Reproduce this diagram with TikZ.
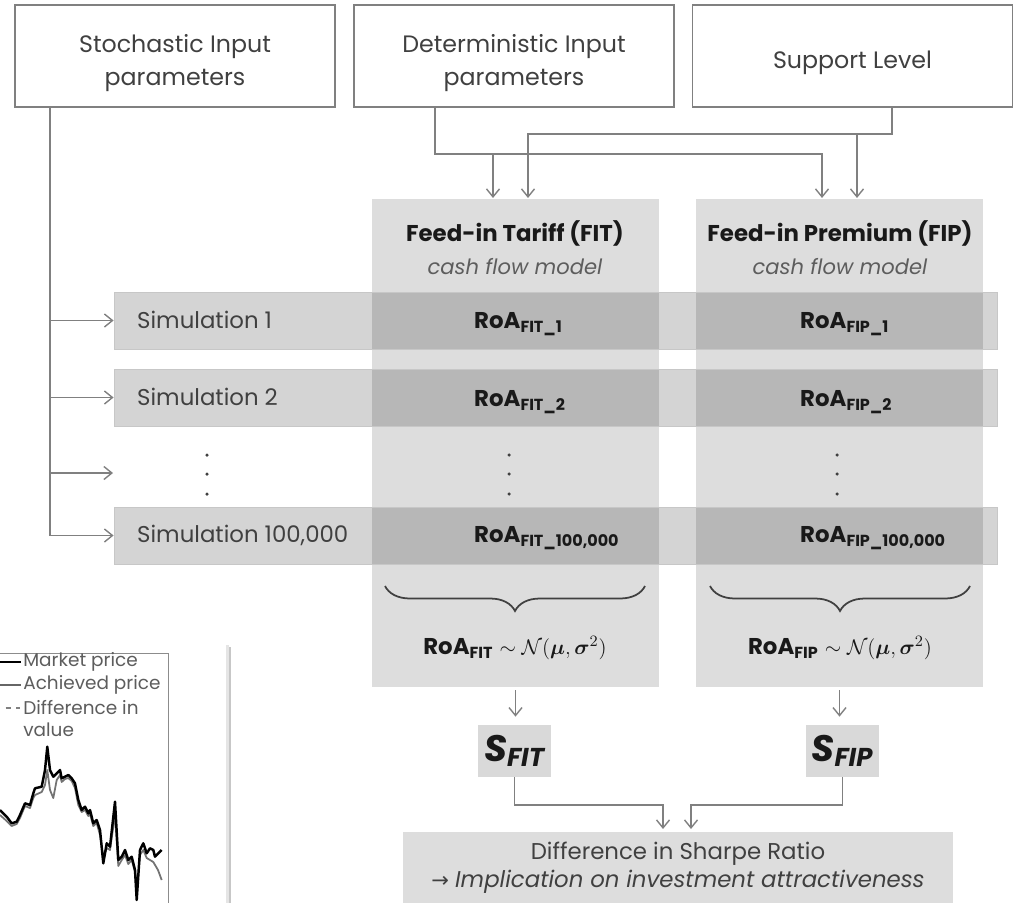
\documentclass[tikz,border=0pt]{standalone}
\usepackage{amsmath,amssymb}
\usepackage{fontspec}
\setmainfont{Poppins}
\newfontfamily\symfont{DejaVu Sans}
\usetikzlibrary{arrows.meta,decorations.pathreplacing,positioning}

\definecolor{linegray}{RGB}{128,128,128}
\definecolor{textgray}{RGB}{64,64,64}
\definecolor{colgray}{RGB}{221,221,221}
\definecolor{boxgray}{RGB}{217,217,217}
\definecolor{darktext}{RGB}{25,25,25}

\newcommand{\roa}[1]{\textbf{RoA}\textsubscript{\textbf{#1}}}
\newcommand{\sharpe}[1]{{\fontsize{21}{24}\selectfont\bfseries\itshape S\textsubscript{#1}}}

\begin{document}
\begin{tikzpicture}[x=0.2mm,y=-0.2mm,
  every node/.style={font=\fontsize{13}{16}\selectfont, text=textgray},
  inbox/.style={draw=linegray, line width=0.6pt, fill=white, minimum width=64mm, minimum height=20.4mm},
  boxtext/.style={align=center, yshift=-1.4mm, font=\fontsize{13.5}{19}\selectfont},
  schemecol/.style={fill=colgray, minimum width=57.4mm, minimum height=97.6mm},
  simrow/.style={draw=black!22, line width=0.5pt, fill=black, fill opacity=0.17, minimum width=176.6mm, minimum height=11.4mm},
  roalbl/.style={anchor=west, text=darktext},
  headlbl/.style={font=\fontsize{13}{16}\selectfont\bfseries, text=darktext},
  sublbl/.style={font=\fontsize{12}{14}\selectfont\itshape, text=textgray!85},
  sbox/.style={fill=boxgray, minimum height=10.4mm, inner xsep=1.2mm, text=darktext},
  diffbox/.style={fill=colgray, minimum width=110mm, minimum height=14.4mm, align=center},
  lgd/.style={anchor=west, font=\fontsize{10.5}{13}\selectfont, inner sep=0pt, text=textgray!85},
  conn/.style={draw=linegray, line width=0.8pt},
  arr/.style={conn, -{Straight Barb[length=1.6mm,width=2.6mm]}},
  brc/.style={draw=textgray, line width=1pt, decorate, decoration={brace,amplitude=5mm}}]
\useasboundingbox (0,0) rectangle (1015,902);
\clip (0,0) rectangle (1015,902);

% price chart in the corner
\fill[black!22] (-5,647) rectangle (231,910);
\fill[black!10] (-5,645) rectangle (229,910);
\fill[white] (-5,643) rectangle (226,910);
\draw[black!45, line width=0.5pt] (-5,653) -- (168,653) -- (168,910);
\draw[black, line width=1.6pt] (-5,662) -- (21,662);
\draw[black!60, line width=0.8pt] (-5,685) -- (21,685);
\draw[black!50, dashed, line width=0.6pt] (-5,708) -- (20,708);
\node[lgd] (lgd1) at (23,662) {Market price};
\node[lgd] (lgd2) at (23,685) {Achieved price};
\node[lgd] (lgd3) at (23,708) {Difference in};
\node[lgd] (lgd4) at (23,730) {value};
\draw[black!55, line width=1pt, line join=round] plot coordinates {(0,815) (6.7,821) (11.7,826) (16.7,824) (20,818) (25,806) (30,808) (33.3,798) (35,795) (41.7,792) (45,785) (47.3,770) (50,790) (53.3,798) (56.7,780) (60,775) (61.7,782) (65,779) (68.3,778) (71.7,781) (75,788) (78.3,805) (81.7,812) (85,810) (88.3,816) (90,814) (93.3,826) (96.7,823) (100,835) (103.3,858) (106.7,848) (110,850) (115,815) (118.3,866) (121.7,860) (125,855) (128.3,864) (131.7,860) (135,872) (136.7,890) (140,855) (143.3,850) (146.7,858) (150,860) (153.3,862) (158,870) (161.7,880)};
\draw[black, line width=1.4pt, line join=round] plot coordinates {(0,810) (6.7,816.7) (11.7,823.3) (16.7,821.7) (20,815) (25,803.3) (30,805) (33.3,793.3) (35,788.3) (41.7,786.7) (45,770) (47.3,746.7) (50,770) (53.3,776.7) (56.7,773.3) (60,770) (61.7,778.3) (65,776.7) (68.3,775) (71.7,778.3) (75,783.3) (78.3,800) (81.7,810) (85,806.7) (88.3,813.3) (90,810) (93.3,823.3) (96.7,820) (100,830) (103.3,863.3) (106.7,843.3) (110,846.7) (115,801.7) (118.3,860) (121.7,856.7) (125,850) (128.3,860) (131.7,856.7) (135,870) (136.7,900) (140,850) (143.3,843.3) (146.7,853.3) (150,848.3) (153.3,850) (155,856.7) (158.3,853.3) (161.7,850)};

% inputs
\node[inbox, label={[boxtext, name=stochtxt]center:Stochastic Input\\parameters}] (stoch) at (175,56) {};
\node[inbox, label={[boxtext, name=determtxt]center:Deterministic Input\\parameters}] (determ) at (514,56) {};
\node[inbox, label={[boxtext, name=supporttxt]center:Support Level}] (support) at (852.5,56) {};

% cash flow models
\node[schemecol] (fitcol) at (515.5,443) {};
\node[schemecol] (fipcol) at (839.5,443) {};
\node[headlbl] (fithead) at (515,233) {Feed-in Tariff (FIT)};
\node[sublbl] (fitsub) at (515,267) {cash flow model};
\node[headlbl] (fiphead) at (840,233) {Feed-in Premium (FIP)};
\node[sublbl] (fipsub) at (840,267) {cash flow model};

% simulation runs
\node[simrow] (sim1) at (555.5,320.5) {};
\node[simrow] (sim2) at (555.5,397.5) {};
\node[simrow] (simN) at (555.5,535.5) {};
\node[anchor=west] (sim1lbl) at (131,320) {Simulation 1};
\node[anchor=west] (sim2lbl) at (131,397) {Simulation 2};
\node[anchor=west] (simNlbl) at (131,535) {Simulation 100,000};
\node[roalbl] (fit1) at (468,324) {\roa{FIT\_1}};
\node[roalbl] (fit2) at (468,402) {\roa{FIT\_2}};
\node[roalbl] (fitN) at (468,538) {\roa{FIT\_100,000}};
\node[roalbl] (fip1) at (794,324) {\roa{FIP\_1}};
\node[roalbl] (fip2) at (794,402) {\roa{FIP\_2}};
\node[roalbl] (fipN) at (794,538) {\roa{FIP\_100,000}};
\foreach \xd in {207,509,837}
  \foreach \yd in {455,474,494}
    \fill[textgray] (\xd,\yd) circle (0.35mm);

% distributions
\draw[brc] (645,586) -- (385,586);
\draw[brc] (970,586) -- (710,586);
\node[text=darktext] (fitdist) at (515,648) {\roa{FIT} $\sim\mathcal{N}(\boldsymbol{\mu},\boldsymbol{\sigma}^2)$};
\node[text=darktext] (fipdist) at (840,648) {\roa{FIP} $\sim\mathcal{N}(\boldsymbol{\mu},\boldsymbol{\sigma}^2)$};

% sharpe ratios
\node[sbox] (sfit) at (514.5,751) {\sharpe{FIT}};
\node[sbox] (sfip) at (842.5,751) {\sharpe{FIP}};
\node[diffbox] (diff) at (678,868) {Difference in Sharpe Ratio\\{\symfont\fontsize{12}{16}\selectfont→} \textit{Implication on investment attractiveness}};

% connectors
\coordinate (trunk) at (50,107);
\coordinate (simdots) at (113,473);
\draw[arr] (trunk) |- (simN.west);
\draw[arr] (trunk |- sim1.west) -- (sim1.west);
\draw[arr] (trunk |- sim2.west) -- (sim2.west);
\draw[arr] (trunk |- simdots) -- (simdots);

\coordinate (fitin1) at (493,198);
\coordinate (fitin2) at (528,198);
\coordinate (fipin1) at (822,198);
\coordinate (fipin2) at (857,198);
\coordinate (detout) at (435,107);
\coordinate (detbus) at (435,154);
\coordinate (supout) at (892,107);
\coordinate (supbus) at (892,134);
\draw[arr] (detout) -- (detbus) -| (fipin1);
\draw[arr] (fitin1 |- detbus) -- (fitin1);
\draw[arr] (supout) -- (supbus) -| (fitin2);
\draw[arr] (fipin2 |- supbus) -- (fipin2);

\draw[arr, shorten <=0.6mm, shorten >=1.6mm] (fitcol.south) -- (fitcol.south |- sfit.north);
\draw[arr, shorten <=0.6mm, shorten >=1.6mm] (fipcol.south) -- (fipcol.south |- sfip.north);

\coordinate (mergey) at (0,805);
\coordinate (diffin1) at (663,829);
\coordinate (diffin2) at (691,829);
\draw[arr] (sfit.south) -- (sfit.south |- mergey) -| (diffin1);
\draw[arr] (sfip.south) -- (sfip.south |- mergey) -| (diffin2);
\end{tikzpicture}
\end{document}
